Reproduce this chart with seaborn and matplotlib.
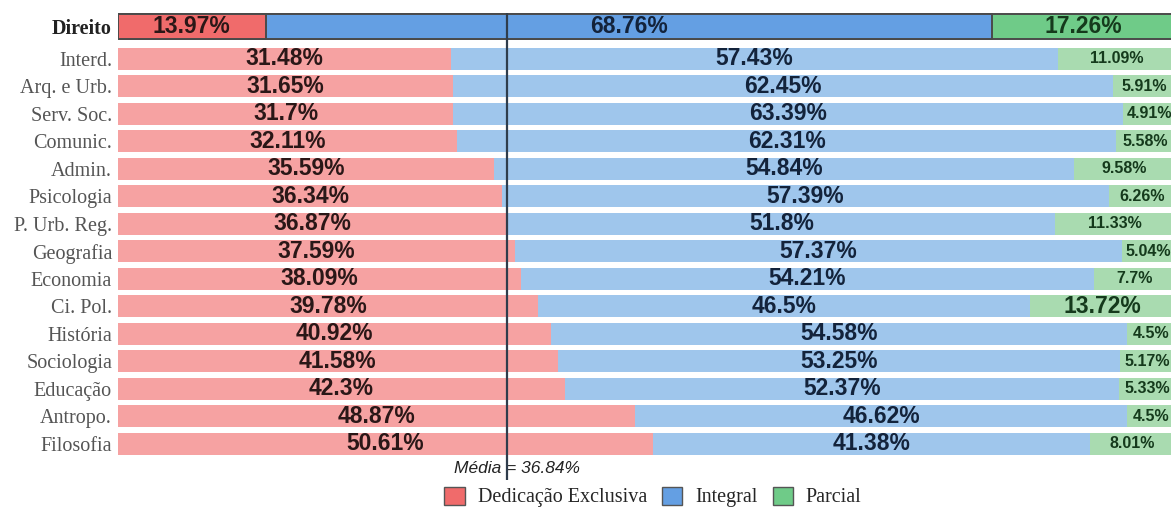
import numpy as np
import pandas as pd
import matplotlib
matplotlib.use("Agg")
import matplotlib.pyplot as plt
from matplotlib.patches import Patch
import seaborn as sns

# Regime de trabalho docente por área (%)
cursos = ["Direito", "Interd.", "Arq. e Urb.", "Serv. Soc.", "Comunic.", "Admin.",
          "Psicologia", "P. Urb. Reg.", "Geografia", "Economia", "Ci. Pol.",
          "História", "Sociologia", "Educação", "Antropo.", "Filosofia"]
exclusiva = [13.97, 31.48, 31.65, 31.7, 32.11, 35.59, 36.34, 36.87, 37.59, 38.09,
             39.78, 40.92, 41.58, 42.3, 48.87, 50.61]
integral = [68.76, 57.43, 62.45, 63.39, 62.31, 54.84, 57.39, 51.8, 57.37, 54.21,
            46.5, 54.58, 53.25, 52.37, 46.62, 41.38]
parcial = [17.26, 11.09, 5.91, 4.91, 5.58, 9.58, 6.26, 11.33, 5.04, 7.7,
           13.72, 4.5, 5.17, 5.33, 4.5, 8.01]
media = 36.84
destaque = "Direito"
legenda = ["Dedicação Exclusiva", "Integral", "Parcial"]

sns.set_theme(style="white")
plt.rcParams["font.family"] = ["Liberation Sans", "DejaVu Sans"]
serif = ["Liberation Serif", "DejaVu Serif"]

df = pd.DataFrame({"curso": cursos, "exc": exclusiva, "int": integral, "par": parcial})
# highlighted row sits slightly apart above the others
df["pos"] = np.arange(len(df)) - np.where(df["curso"] == destaque, 0.18, 0.0)
df["c_int"] = df["exc"] + df["int"]
df["c_par"] = df["c_int"] + df["par"]

cores_claras = {"c_par": "#a9dbb0", "c_int": "#9fc6ec", "exc": "#f6a2a2"}
cores_fortes = {"c_par": "#6fcb88", "c_int": "#649fe3", "exc": "#f06b6b"}
cores_texto = {"exc": "#2a1717", "int": "#13233b", "par": "#153a1c"}

fig = plt.figure(figsize=(11.71, 5.07), dpi=100)
ax = fig.add_axes([118 / 1171, 27 / 507, 1057 / 1171, 467 / 507])

base = df[df["curso"] != destaque]
top = df[df["curso"] == destaque]
for col in ["c_par", "c_int", "exc"]:
    sns.barplot(data=base, x=col, y="pos", orient="y", native_scale=True,
                color=cores_claras[col], saturation=1, width=0.8,
                linewidth=0, ax=ax)
    sns.barplot(data=top, x=col, y="pos", orient="y", native_scale=True,
                color=cores_fortes[col], saturation=1, width=0.91,
                edgecolor="#4a4a4a", linewidth=1.4, ax=ax)

# value labels centred on each segment
for _, r in df.iterrows():
    segs = [("exc", 0, r["exc"]), ("int", r["exc"], r["int"]), ("par", r["c_int"], r["par"])]
    for key, left, val in segs:
        big = key != "par" or val >= 12
        ax.text(left + val / 2, r["pos"], f"{val:g}%", ha="center", va="center",
                fontsize=16.5 if big else 11.5, fontweight="bold",
                color=cores_texto[key])

ax.axvline(media, color="#2f3d4c", lw=1.6, zorder=5)
ax.text(media + 0.95, 15.91, f"Média = {media:g}%", ha="center", va="center",
        fontsize=12.5, style="italic", color="#222222")

ax.set_xlim(0, 100)
ax.set_ylim(16.31, -0.67)
ax.set_yticks(df["pos"], df["curso"])
ax.set_xticks([])
ax.set_xlabel("")
ax.set_ylabel("")
ax.tick_params(axis="y", length=0, pad=4.3)
for lab in ax.get_yticklabels():
    lab.set_fontfamily(serif)
    lab.set_fontsize(14.5)
    if lab.get_text() == destaque:
        lab.set_fontweight("bold")
        lab.set_color("#222222")
    else:
        lab.set_color("#555555")
sns.despine(ax=ax, left=True, bottom=True)

handles = [Patch(facecolor=cores_fortes[k], edgecolor="#555555", linewidth=1)
           for k in ["exc", "c_int", "c_par"]]
fig.legend(handles, legenda, ncol=3, loc="center",
           bbox_to_anchor=(653 / 1171, 1 - 497 / 507), frameon=False,
           prop={"family": serif, "size": 14.5},
           handlelength=1.0, handleheight=1.0, handletextpad=0.65,
           columnspacing=0.75, borderpad=0)

fig.savefig("out.png", dpi=100)
